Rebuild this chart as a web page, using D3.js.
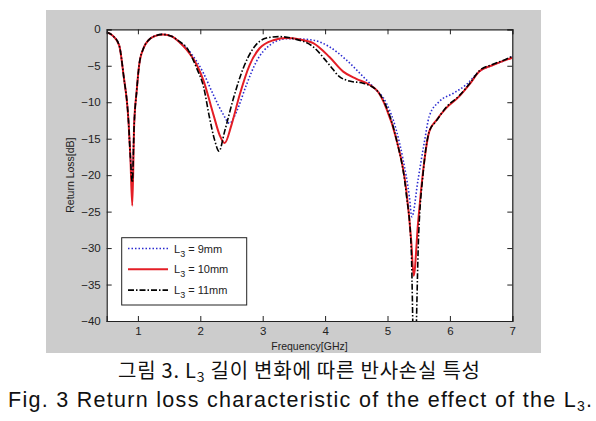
<!DOCTYPE html>
<html><head><meta charset="utf-8">
<script src="https://cdn.jsdelivr.net/npm/d3@7"></script>
<style>body{margin:0;background:#fff}svg{display:block}</style>
</head><body>
<script>
// ---- data ----
const xTicks = [1,2,3,4,5,6,7];
const yTicks = [0,-5,-10,-15,-20,-25,-30,-35,-40];
const seriesNames = ["L3 = 9mm","L3 = 10mm","L3 = 11mm"];

const f9 = [0.5,0.6,0.7,0.77,0.85,0.88,0.91,0.94,0.98,1.02,1.09,1.17,1.25,1.4,1.55,1.67,1.78,1.95,2.05,2.21,2.37,2.47,2.58,2.74,2.9,3.11,3.38,3.5,3.81,4.07,4.34,4.61,4.77,4.98,5.14,5.25,5.35,5.39,5.49,5.59,5.67,5.83,6.05,6.26,6.47,6.69,6.9,7.0];
const v9 = [-0.4,-0.9,-2.2,-6.3,-12.7,-17.6,-21,-13.1,-8.5,-4.9,-2.6,-1.5,-1.0,-0.7,-1.0,-1.8,-2.6,-4.5,-6.0,-9.0,-11.7,-12.9,-11.3,-7.6,-4.4,-2.2,-1.3,-1.3,-1.5,-2.4,-4.2,-6.5,-7.9,-10.1,-13.8,-17.9,-22.9,-25.7,-20.6,-15.5,-11.9,-9.9,-8.8,-7.6,-5.8,-4.9,-4.2,-3.8];

const f10 = [0.5,0.6,0.7,0.77,0.85,0.88,0.91,0.94,0.98,1.02,1.09,1.17,1.25,1.4,1.55,1.67,1.78,1.95,2.05,2.21,2.31,2.39,2.5,2.63,2.79,2.95,3.17,3.38,3.6,3.81,4.07,4.29,4.5,4.71,4.85,4.98,5.14,5.3,5.38,5.42,5.49,5.57,5.67,5.78,5.94,6.15,6.31,6.47,6.69,6.9,7.0];
const v10 = [-0.4,-0.9,-2.2,-6.3,-12.7,-17.6,-24.2,-13.1,-8.5,-4.9,-2.6,-1.5,-1.0,-0.7,-1.0,-1.8,-2.8,-5.0,-7.0,-11.7,-14.5,-15.6,-13.1,-9.0,-4.9,-2.6,-1.5,-1.2,-1.4,-1.9,-3.8,-5.8,-6.8,-7.6,-8.6,-10.8,-15.0,-22.0,-29.0,-33.8,-26.5,-19.5,-14.0,-12.5,-10.8,-9.2,-7.6,-5.8,-4.9,-4.2,-3.9];

const f11 = [0.5,0.6,0.7,0.77,0.85,0.88,0.91,0.94,0.98,1.02,1.09,1.17,1.25,1.4,1.55,1.67,1.78,1.95,2.05,2.15,2.23,2.30,2.39,2.53,2.69,2.85,3.06,3.27,3.5,3.81,4.07,4.23,4.39,4.61,4.82,4.98,5.14,5.3,5.38,5.43,5.5,5.57,5.67,5.78,5.94,6.15,6.31,6.47,6.69,6.9,7.0];
const v11 = [-0.4,-0.9,-2.2,-6.3,-12.7,-17.6,-21,-13.1,-8.5,-4.9,-2.6,-1.5,-1.0,-0.7,-1.0,-1.7,-2.5,-5.5,-7.8,-12.2,-15.2,-16.7,-14.0,-9.5,-5.3,-2.6,-1.2,-1.0,-1.3,-2.4,-4.9,-6.5,-7.1,-7.4,-8.3,-10.6,-15.0,-22.5,-30,-48,-28,-19.8,-14.0,-12.6,-10.7,-9.1,-7.5,-5.7,-4.8,-4.1,-3.7];

const W = 596, H = 421;
const svg = d3.select("body").append("svg").attr("width", W).attr("height", H);

// gray figure background
svg.append("rect").attr("x",46).attr("y",10).attr("width",495).attr("height",343).attr("fill","#cccccc");

const L = 106.7, R = 512.3, T = 29.3, B = 321;
const x = d3.scaleLinear().domain([0.5,7]).range([L,R]);
const y = d3.scaleLinear().domain([-40,0]).range([B,T]);

svg.append("rect").attr("x",L).attr("y",T).attr("width",R-L).attr("height",B-T).attr("fill","#fff");

svg.append("clipPath").attr("id","clip").append("rect")
  .attr("x",L).attr("y",T).attr("width",R-L).attr("height",B-T);

const line = d3.line().x(d=>x(d[0])).y(d=>y(d[1])).curve(d3.curveMonotoneX);
const series = [
  {f:f9, v:v9, color:"#2a2ad0", width:1.6, dash:"1.5,2"},
  {f:f10, v:v10, color:"#e41e26", width:2, dash:null},
  {f:f11, v:v11, color:"#000", width:1.6, dash:"6,2,1.5,2"}
];
const g = svg.append("g").attr("clip-path","url(#clip)");
series.forEach(s=>{
  g.append("path").datum(s.f.map((fv,i)=>[fv,s.v[i]]))
    .attr("d",line).attr("fill","none").attr("stroke",s.color)
    .attr("stroke-width",s.width).attr("stroke-dasharray",s.dash);
});

// axes (box with inward ticks)
const font = "Arial, 'Liberation Sans', sans-serif";
const axB = svg.append("g").attr("transform",`translate(0,${B})`)
  .call(d3.axisBottom(x).tickValues(xTicks).tickSize(-5).tickPadding(6).tickFormat(d3.format("d")));
const axT = svg.append("g").attr("transform",`translate(0,${T})`)
  .call(d3.axisTop(x).tickValues(xTicks).tickSize(-5).tickFormat(""));
const axL = svg.append("g").attr("transform",`translate(${L},0)`)
  .call(d3.axisLeft(y).tickValues(yTicks).tickSize(-5).tickPadding(6).tickFormat(d3.format("d")));
const axR = svg.append("g").attr("transform",`translate(${R},0)`)
  .call(d3.axisRight(y).tickValues(yTicks).tickSize(-5).tickFormat(""));
[axB,axT,axL,axR].forEach(a=>{
  a.select(".domain").attr("stroke","#222").attr("stroke-width",1.2);
  a.selectAll(".tick line").attr("stroke","#222");
  a.selectAll("text").attr("font-family",font).attr("font-size",11.5).attr("fill","#222");
});

svg.append("text").attr("x",(L+R)/2).attr("y",350).attr("text-anchor","middle")
  .attr("font-family",font).attr("font-size",10.5).attr("fill","#222").text("Frequency[GHz]");
svg.append("text").attr("transform",`translate(74,${(T+B)/2}) rotate(-90)`).attr("text-anchor","middle")
  .attr("font-family",font).attr("font-size",10.5).attr("fill","#222").text("Return Loss[dB]");

// legend
const lg = svg.append("g");
lg.append("rect").attr("x",121.7).attr("y",237.7).attr("width",125).attr("height",67.3)
  .attr("fill","#fff").attr("stroke","#222").attr("stroke-width",1);
series.forEach((s,i)=>{
  const yy = 248.5 + i*20.8;
  lg.append("line").attr("x1",128).attr("x2",168).attr("y1",yy).attr("y2",yy)
    .attr("stroke",s.color).attr("stroke-width",s.width).attr("stroke-dasharray",s.dash);
  const t = lg.append("text").attr("x",174).attr("y",yy+4).attr("font-family",font)
    .attr("font-size",11).attr("fill","#222");
  t.append("tspan").text("L");
  t.append("tspan").attr("dy",4).attr("font-size",9).text("3");
  t.append("tspan").attr("dy",-4).text(seriesNames[i].slice(2));
});

// captions: spread with letter-spacing to match reference widths
function fitSpacing(sel, left, width){
  const txt = sel.text();
  const w = sel.node().getComputedTextLength();
  const n = txt.length - 1;
  const ls = (width - w) / n;
  sel.attr("x", left).attr("text-anchor","start").attr("letter-spacing", ls);
}
const cap1 = svg.append("text").attr("y",378)
  .attr("font-family","'Noto Sans CJK KR', sans-serif")
  .attr("font-size",20).attr("fill","#111");
cap1.append("tspan").text("그림 3. L");
cap1.append("tspan").attr("dy",4).attr("font-size",14).text("3");
cap1.append("tspan").attr("dy",-4).text(" 길이 변화에 따른 반사손실 특성");
fitSpacing(cap1, 118, 362);

const cap2 = svg.append("text").attr("y",407)
  .attr("font-family","'Liberation Sans', Arial, sans-serif")
  .attr("font-size",21.5).attr("fill","#111");
cap2.append("tspan").text("Fig. 3 Return loss characteristic of the effect of the L");
cap2.append("tspan").attr("dy",4).attr("font-size",14).text("3");
cap2.append("tspan").attr("dy",-4).text(".");
fitSpacing(cap2, 8, 584);
</script>
</body></html>
